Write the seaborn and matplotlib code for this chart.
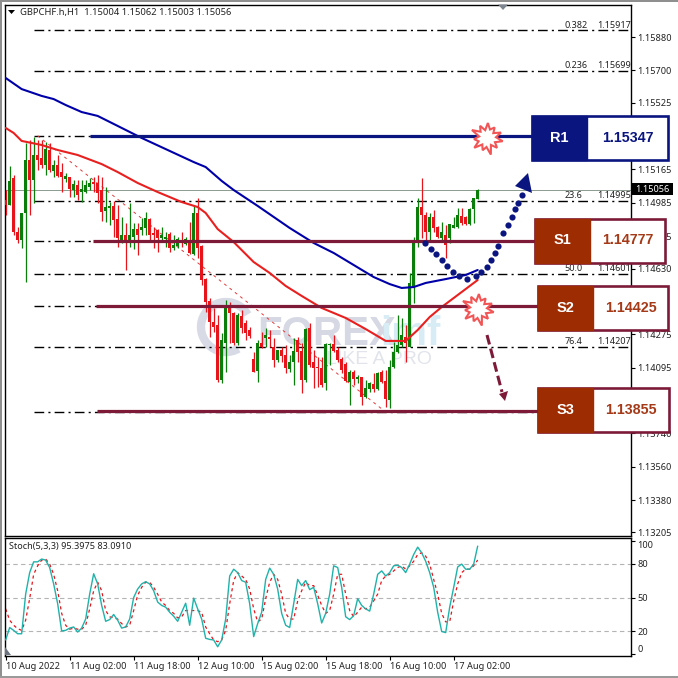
import numpy as np
import matplotlib
matplotlib.use('Agg')
import matplotlib.pyplot as plt
from matplotlib.patches import Rectangle, Polygon, Arc
import seaborn as sns

# %% Candles, hourly GBPCHF
opens = [
    1.15000, 1.14973, 1.15119, 1.14827, 1.14784, 1.14930, 1.15216, 1.15108, 1.15243, 1.15227,
    1.15189, 1.15270, 1.15157, 1.15189, 1.15151, 1.15113, 1.15124, 1.15054, 1.15081, 1.15043,
    1.15043, 1.15070, 1.15097, 1.15092, 1.15054, 1.14941, 1.14957, 1.14968, 1.14897, 1.14784,
    1.14811, 1.14768, 1.14800, 1.14843, 1.14838, 1.14849, 1.14897, 1.14822, 1.14838, 1.14795,
    1.14789, 1.14816, 1.14741, 1.14752, 1.14773, 1.14762, 1.14784, 1.14708, 1.14930, 1.14752,
    1.14573, 1.14455, 1.14341, 1.14325, 1.14028, 1.14228, 1.14422, 1.14390, 1.14228, 1.14374,
    1.14336, 1.14298, 1.14141, 1.14077, 1.14228, 1.14255, 1.14260, 1.14206, 1.14136, 1.14190,
    1.14163, 1.14087, 1.14125, 1.14244, 1.14185, 1.14028, 1.14309, 1.14125, 1.14098, 1.14093,
    1.14012, 1.14217, 1.14222, 1.14190, 1.14141, 1.14114, 1.14017, 1.14071, 1.14033, 1.14044,
    1.13936, 1.13979, 1.14006, 1.13979, 1.14071, 1.14023, 1.13920, 1.14098, 1.14179, 1.14217,
    1.14260, 1.14206, 1.14530, 1.14768, 1.14962, 1.14919, 1.14827, 1.14908, 1.14854, 1.14795,
    1.14811, 1.14795, 1.14849, 1.14854, 1.14914, 1.14908, 1.14870, 1.14951, 1.15004,
]
highs = [
    1.15054, 1.15184, 1.15135, 1.14854, 1.14930, 1.15308, 1.15324, 1.15340, 1.15324, 1.15324,
    1.15313, 1.15308, 1.15216, 1.15243, 1.15200, 1.15146, 1.15124, 1.15108, 1.15108, 1.15108,
    1.15108, 1.15119, 1.15124, 1.15135, 1.15124, 1.15070, 1.14989, 1.14995, 1.14973, 1.14908,
    1.14876, 1.14984, 1.14876, 1.14876, 1.14903, 1.14935, 1.14903, 1.14854, 1.14843, 1.14854,
    1.14827, 1.14827, 1.14811, 1.14800, 1.14827, 1.14800, 1.14881, 1.14973, 1.15011, 1.14757,
    1.14579, 1.14471, 1.14417, 1.14379, 1.14282, 1.14460, 1.14449, 1.14395, 1.14390, 1.14406,
    1.14352, 1.14314, 1.14179, 1.14244, 1.14287, 1.14309, 1.14298, 1.14255, 1.14190, 1.14206,
    1.14217, 1.14163, 1.14255, 1.14260, 1.14228, 1.14309, 1.14336, 1.14190, 1.14152, 1.14152,
    1.14228, 1.14228, 1.14271, 1.14206, 1.14152, 1.14125, 1.14082, 1.14082, 1.14055, 1.14044,
    1.14028, 1.14017, 1.14066, 1.14071, 1.14082, 1.14082, 1.14136, 1.14233, 1.14379, 1.14363,
    1.14325, 1.14606, 1.14800, 1.15011, 1.15119, 1.14935, 1.14930, 1.14946, 1.14860, 1.14881,
    1.14865, 1.14870, 1.14908, 1.14957, 1.14957, 1.14914, 1.14957, 1.15011, 1.15062,
]
lows = [
    1.14919, 1.14973, 1.14811, 1.14768, 1.14741, 1.14557, 1.14919, 1.14984, 1.15162, 1.15173,
    1.15135, 1.15151, 1.15124, 1.15124, 1.15043, 1.15097, 1.15016, 1.15016, 1.15000, 1.14989,
    1.15038, 1.15054, 1.15043, 1.14984, 1.14887, 1.14881, 1.14865, 1.14800, 1.14746, 1.14768,
    1.14622, 1.14746, 1.14735, 1.14703, 1.14811, 1.14811, 1.14784, 1.14741, 1.14719, 1.14784,
    1.14746, 1.14719, 1.14730, 1.14741, 1.14746, 1.14757, 1.14708, 1.14703, 1.14687, 1.14541,
    1.14395, 1.14260, 1.14287, 1.14017, 1.14012, 1.14071, 1.14228, 1.14217, 1.14217, 1.14282,
    1.14244, 1.14255, 1.14071, 1.14017, 1.14201, 1.14206, 1.14206, 1.14098, 1.14125, 1.14125,
    1.14066, 1.14071, 1.14001, 1.14125, 1.13958, 1.14017, 1.14098, 1.13985, 1.13990, 1.13990,
    1.13974, 1.14109, 1.14179, 1.14125, 1.14066, 1.14017, 1.13893, 1.14001, 1.14012, 1.13893,
    1.13931, 1.13963, 1.13963, 1.13974, 1.14012, 1.13882, 1.13877, 1.14093, 1.14174, 1.14206,
    1.14125, 1.14206, 1.14444, 1.14746, 1.14795, 1.14773, 1.14784, 1.14827, 1.14795, 1.14784,
    1.14687, 1.14768, 1.14849, 1.14849, 1.14865, 1.14865, 1.14865, 1.14876, 1.15003,
]
closes = [
    1.14973, 1.15103, 1.14827, 1.14784, 1.14930, 1.15216, 1.15108, 1.15243, 1.15216, 1.15189,
    1.15275, 1.15162, 1.15189, 1.15130, 1.15124, 1.15130, 1.15059, 1.15086, 1.15027, 1.15059,
    1.15081, 1.15092, 1.15086, 1.15038, 1.14935, 1.14962, 1.14968, 1.14892, 1.14795, 1.14811,
    1.14768, 1.14811, 1.14843, 1.14811, 1.14854, 1.14903, 1.14811, 1.14811, 1.14795, 1.14811,
    1.14800, 1.14741, 1.14757, 1.14789, 1.14768, 1.14789, 1.14714, 1.14930, 1.14741, 1.14568,
    1.14449, 1.14341, 1.14314, 1.14028, 1.14244, 1.14417, 1.14390, 1.14228, 1.14379, 1.14309,
    1.14282, 1.14266, 1.14071, 1.14228, 1.14206, 1.14271, 1.14249, 1.14136, 1.14190, 1.14158,
    1.14093, 1.14125, 1.14185, 1.14179, 1.14028, 1.14303, 1.14109, 1.14093, 1.14093, 1.14001,
    1.14222, 1.14222, 1.14185, 1.14136, 1.14082, 1.14023, 1.14071, 1.14033, 1.14044, 1.13936,
    1.13985, 1.14012, 1.13979, 1.14066, 1.14017, 1.13925, 1.14098, 1.14179, 1.14217, 1.14271,
    1.14228, 1.14552, 1.14768, 1.14962, 1.14919, 1.14827, 1.14908, 1.14849, 1.14800, 1.14827,
    1.14757, 1.14870, 1.14865, 1.14919, 1.14876, 1.14870, 1.14951, 1.15011, 1.15056,
]

# %% Moving averages, read at some bars only
blue_bars = [0, 4, 9, 12, 15, 19, 23, 28, 34, 40, 47, 50, 54, 57, 63, 71, 77, 82, 87, 92, 96, 99, 102, 105, 110, 115, 118]
blue_ma = [
    1.15659, 1.15599, 1.15562, 1.15545, 1.15513, 1.15475, 1.15454, 1.15400, 1.15335,
    1.15275, 1.15205, 1.15178, 1.15103, 1.15054, 1.14968, 1.14849, 1.14768, 1.14714,
    1.14649, 1.14584, 1.14546, 1.14525, 1.14530, 1.14552, 1.14573, 1.14595, 1.14622,
]
red_bars = [0, 2, 4, 9, 13, 18, 24, 28, 33, 38, 44, 48, 50, 53, 57, 62, 66, 70, 74, 79, 85, 90, 95, 100, 103, 106, 109, 118]
red_ma = [
    1.15389, 1.15362, 1.15319, 1.15297, 1.15270, 1.15243, 1.15194, 1.15151, 1.15092,
    1.15043, 1.14989, 1.14962, 1.14930, 1.14843, 1.14773, 1.14665, 1.14606, 1.14536,
    1.14482, 1.14417, 1.14363, 1.14303, 1.14239, 1.14239, 1.14298, 1.14368, 1.14422, 1.14568,
]

# %% Stochastic
stoch_k = [
    12.5, 23.5, 21, 18, 18, 53, 72, 81.5, 81.5, 84, 83, 76.5, 62, 44.5, 20.5, 21, 23, 24, 19.5, 23,
    31, 53, 71, 62, 43, 29, 30.5, 35, 30, 23, 24, 31, 50, 57.5, 62, 64, 62, 56, 46, 43,
    41.5, 37, 33.5, 29, 37, 45, 25.5, 49.5, 40, 31, 14, 13, 12.5, 6.5, 12.5, 31, 69, 75, 72, 65,
    63.5, 44.5, 15.5, 27, 37, 66, 76, 70.5, 57.5, 36, 25.5, 23.5, 44.5, 66, 60.5, 65, 57, 59, 44.5, 27.5,
    36, 53, 78, 76.5, 59, 33, 30.5, 34, 49, 43, 40, 38, 53, 70.5, 73.5, 69, 72, 78, 78.5, 76.5,
    72, 79.5, 88, 94.5, 89.5, 82, 72, 59, 37, 20, 19, 41.5, 59, 77, 79.5, 75, 75, 79.5, 95.4,
]
stoch_d = [
    40, 30, 25.5, 22.5, 21, 30, 49, 70.5, 78, 83, 84, 79.5, 70.5, 56, 36, 25.5, 22, 23, 22, 22,
    25.5, 40, 56, 63.5, 56, 38.5, 33, 32, 31, 27, 24, 25.5, 38.5, 52, 59, 63.5, 63.5, 59, 53, 46,
    43, 38.5, 36, 32, 33, 38.5, 38.5, 38.5, 38.5, 37, 24, 18, 12.5, 11, 12.5, 21, 44.5, 65, 72, 69,
    66, 57.5, 40, 28.5, 31, 49, 63.5, 70.5, 66, 53, 36, 31, 31, 47, 56, 63.5, 60.5, 60.5, 52, 43,
    36, 38.5, 53, 70.5, 70.5, 53, 38.5, 33, 37, 41.5, 40, 41.5, 47, 53, 65, 69, 70.5, 73.5, 76.5, 78,
    75, 78, 82, 88, 89.5, 86.5, 79.5, 66, 53, 36, 28.5, 28.5, 47, 62, 72, 75, 75, 78, 83.1,
]
stoch_levels = [20, 50, 80]
stoch_ticks = [0, 20, 50, 80, 100]

# %% Levels and labels, the empty names sit under the boxes in the picture
fib_names = ['0.382', '0.236', '', '23.6', '', '50.0', '', '76.4', '']
fib_prices = [1.15917, 1.15699, 1.15347, 1.14995, 1.14777, 1.14601, 1.14425, 1.14207, 1.13855]
res_names = ['R1']
res_prices = [1.15347]
sup_names = ['S1', 'S2', 'S3']
sup_prices = [1.14777, 1.14425, 1.13855]
last_price = 1.15056
price_ticks = [1.15880, 1.15700, 1.15525, 1.15345, 1.15165, 1.14985, 1.14805, 1.14630,
               1.14450, 1.14275, 1.14095, 1.13915, 1.13740, 1.13560, 1.13380, 1.13205]
hidden_ticks = [1.15345, 1.14450, 1.13915]
date_bars = [0, 16, 32, 48, 64, 80, 96, 112]
date_labels = ['10 Aug 2022', '11 Aug 02:00', '11 Aug 18:00', '12 Aug 10:00',
               '15 Aug 02:00', '15 Aug 18:00', '16 Aug 10:00', '17 Aug 02:00']
trend_bars = [8, 95]
trend_prices = [1.15347, 1.13855]

NAVY = '#0a1580'
MAROON = '#7c1a38'
RUST = '#9e2c02'
W, H = 678, 678

sns.set_theme(style='white')
plt.rcParams['font.family'] = ['Noto Sans', 'DejaVu Sans']

fig = plt.figure(figsize=(W / 100, H / 100), dpi=100, facecolor='white')


def panel(left, top, right, bottom):
    return fig.add_axes([left / W, 1 - bottom / H, (right - left) / W, (bottom - top) / H])


ax = panel(4.5, 4.5, 630.5, 535.5)
ax2 = panel(4.5, 537.5, 630.5, 655.5)
# overlay in pixels for the hand drawn boxes and arrows
ov = fig.add_axes([0, 0, 1, 1], zorder=10)
ov.set_xlim(0, W)
ov.set_ylim(H, 0)
ov.axis('off')

bars = np.arange(len(opens))
xlim = (-0.29, 156.2)

# %% Watermark sits behind the candles
ax.text(257, 345, 'FOREX', transform=ov.transData, fontsize=29, fontweight='bold',
        color='#d6d9e4', family='Liberation Sans', va='baseline', zorder=0)
ax.text(380, 345, 'imf', transform=ov.transData, fontsize=29, fontweight='bold',
        color='#d8ecf6', family='Liberation Sans', va='baseline', zorder=0)
ax.text(326, 364, 'LIKE A PRO', transform=ov.transData, fontsize=14,
        color='#e2e4ec', family='Liberation Sans', va='baseline', zorder=0)
ax.add_patch(Arc((226, 327), 50, 50, theta1=60, theta2=330, transform=ov.transData,
                 color='#d8dbe5', lw=6, zorder=0))

# %% Main panel
for price in fib_prices:
    ax.hlines(price, 7.0, xlim[1], color='black', lw=1.0, linestyles=(0, (7, 3, 1.5, 3)), zorder=1)
for name, price in zip(fib_names, fib_prices):
    if name:
        ax.text(139.6, price + 0.00003, name, fontsize=6.5, color='#222222', va='bottom', zorder=1)
        ax.text(147.8, price + 0.00003, f'{price:.5f}', fontsize=6.5, color='#222222', va='bottom', zorder=1)

ax.axhline(last_price, color='#8c9a90', lw=0.7, zorder=1)
sns.lineplot(x=trend_bars, y=trend_prices, ax=ax, color='#e23a3a', lw=0.7, linestyle=(0, (3, 4)), zorder=2)

candle_colors = ['#0a7d0a' if c >= o else '#e8141c' for o, c in zip(opens, closes)]
ax.vlines(bars, lows, highs, colors=candle_colors, lw=0.9, zorder=3)
ax.bar(bars, np.abs(np.array(closes) - np.array(opens)), bottom=np.minimum(opens, closes),
       width=0.72, color=candle_colors, linewidth=0, zorder=3)

sns.lineplot(x=blue_bars, y=blue_ma, ax=ax, color='#0000a8', lw=1.5, zorder=4)
sns.lineplot(x=red_bars, y=red_ma, ax=ax, color='#e8201f', lw=1.5, zorder=4)

# level lines from the hand drawn boxes
ax.hlines(res_prices, 21.0, 131.5, color=NAVY, lw=2.3, zorder=5)
for price, start, end in zip(sup_prices, [21.8, 22.5, 22.8], [132.5, 133, 133]):
    ax.hlines(price + 0.00007 * (price < 1.14), start, end, color=MAROON, lw=2.3, zorder=5)

ax.set_xlim(*xlim)
ax.set_ylim(1.131883, 1.160557)
ax.yaxis.tick_right()
ax.set_yticks(price_ticks)
ax.set_yticklabels(['' if t in hidden_ticks else f'{t:.5f}' for t in price_ticks], fontsize=6.6, color='#222222')
ax.set_xticks([])
ax.set_xlabel('')
ax.set_ylabel('')
ax.tick_params(axis='y', length=3, width=0.8, color='black', pad=1.5, right=True)

# %% Stochastic panel
for level in stoch_levels:
    ax2.axhline(level, color='#b4b4b4', lw=0.8, linestyle=(0, (4, 3)), zorder=1)
sns.lineplot(x=bars, y=stoch_d, ax=ax2, color='#e8141c', lw=0.9, linestyle=(0, (2.5, 2.5)), zorder=2)
sns.lineplot(x=bars, y=stoch_k, ax=ax2, color='#20b2aa', lw=1.0, zorder=3)
ax2.set_xlim(*xlim)
ax2.set_ylim(-1.2, 103)
ax2.yaxis.tick_right()
ax2.set_yticks(stoch_ticks)
ax2.set_yticklabels([str(t) for t in stoch_ticks], fontsize=6.6, color='#222222')
for lab, t in zip(ax2.get_yticklabels(), stoch_ticks):
    if t == 0:
        lab.set_verticalalignment('bottom')
    if t == 100:
        lab.set_verticalalignment('top')
ax2.set_xticks(date_bars)
ax2.set_xticklabels(date_labels, fontsize=6.6, color='#222222', ha='left')
ax2.set_xlabel('')
ax2.set_ylabel('')
ax2.tick_params(axis='both', length=3, width=0.8, color='black', pad=2, bottom=True, right=True)

for a in (ax, ax2):
    a.set_facecolor('white')
    a.grid(False)
    for sp in a.spines.values():
        sp.set_color('black')
        sp.set_linewidth(1.0)

# %% Overlay: window edge, header, boxes, bursts, arrows
ov.add_patch(Rectangle((0, 0), W, 2, color='#8f8f8f', lw=0))
ov.add_patch(Rectangle((0, 0), 2, H, color='#8f8f8f', lw=0))
ov.add_patch(Rectangle((0, 675.5), W, 2.5, color='#9a9a9a', lw=0))
ov.add_patch(Polygon([(8, 10), (15, 10), (11.5, 14)], color='black', lw=0))
ov.add_patch(Polygon([(498, 4.5), (508, 4.5), (503, 10)], color='#7d8590', lw=0))
ov.add_patch(Polygon([(5, 647), (5, 655), (11, 655)], color='#6b7280', lw=0))
ov.text(20, 12, 'GBPCHF.h,H1  1.15004 1.15062 1.15003 1.15056', fontsize=6.75, color='#222222', va='center')
ov.text(9, 546, 'Stoch(5,3,3) 95.3975 83.0910', fontsize=6.55, color='#222222', va='center')

# last price tag
ov.add_patch(Rectangle((631.5, 183), 41, 12, color='black', lw=0))
ov.text(652, 189, f'{last_price:.5f}', fontsize=6.6, color='white', ha='center', va='center')


def level_box(left, top, split, right, bottom, fill, edge, name, value, value_color):
    ov.add_patch(Rectangle((left, top), right - left, bottom - top, fc='white', ec=edge, lw=1.9))
    ov.add_patch(Rectangle((left, top), split - left, bottom - top, fc=fill, ec=fill, lw=1.0))
    ov.text((left + split) / 2, (top + bottom) / 2, name, color='white', fontsize=10.5, fontweight='bold',
            family='Liberation Sans', ha='center', va='center')
    ov.text((split + right) / 2, (top + bottom) / 2, f'{value:.5f}', color=value_color, fontsize=10.3,
            fontweight='bold', family='Liberation Sans', ha='center', va='center')


level_box(532, 115.5, 587, 668, 159.5, NAVY, NAVY, res_names[0], res_prices[0], NAVY)
level_box(535, 218.5, 590, 665, 262.5, RUST, MAROON, sup_names[0], sup_prices[0], '#a53a18')
level_box(538, 285.5, 593, 668, 329.5, RUST, MAROON, sup_names[1], sup_prices[1], '#a53a18')
level_box(538, 387.5, 593, 669, 431.5, RUST, MAROON, sup_names[2], sup_prices[2], '#a53a18')

burst_radii = [16, 9, 14, 8, 17, 9, 13, 8, 16, 9, 13, 8, 17, 9, 14, 8, 15, 9, 13, 8, 15, 9]
for cx, cy in [(487, 138), (478, 309)]:
    ang = np.linspace(0, 2 * np.pi, len(burst_radii), endpoint=False) + 0.2
    pts = [(cx + r * np.cos(t), cy + r * np.sin(t)) for r, t in zip(burst_radii, ang)]
    ov.add_patch(Polygon(pts, fc='white', ec='#f25555', lw=1.5, joinstyle='miter'))

dots_x = [425, 431, 436, 442, 447, 453, 459, 467, 476, 481, 487, 491, 495, 498, 503, 508, 512, 515, 518, 522]
dots_y = [243, 249, 254, 260, 266, 272, 276, 279, 276, 272, 267, 260, 253, 246, 233, 225, 217, 209, 203, 195]
ov.scatter(dots_x, dots_y, s=20, marker='o', color=NAVY, lw=0)
ov.add_patch(Polygon([(528, 173), (515, 186), (532, 193)], color=NAVY, lw=0))

ov.plot([487, 502], [335, 392], color=MAROON, lw=2.2, linestyle=(0, (3.2, 1.4)))
ov.add_patch(Polygon([(505, 401), (499, 394), (508, 391)], color=MAROON, lw=0))

fig.savefig('out.png', dpi=100, facecolor='white')
